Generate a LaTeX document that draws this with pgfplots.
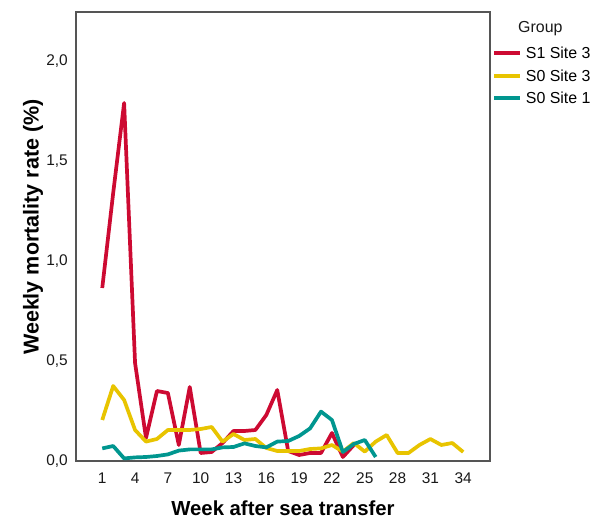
\documentclass[border=0pt]{standalone}
\usepackage{fontspec}
\setmainfont{Liberation Sans}
\usepackage{pgfplots}
\pgfplotsset{compat=1.18}
\definecolor{cred}{RGB}{205,10,50}
\definecolor{cyel}{RGB}{232,196,0}
\definecolor{cteal}{RGB}{0,150,143}
\definecolor{cframe}{RGB}{85,85,85}
\begin{document}
\begin{tikzpicture}
\begin{axis}[
  scale only axis,
  width=414bp, height=449bp,
  xmin=-1.4, xmax=36.45,
  ymin=0, ymax=2.245,
  axis line style={cframe, line width=1.3bp},
  xtick={1,4,...,34},
  ytick={0,0.5,1,1.5,2},
  major tick length=0pt,
  tick style={draw=none},
  /pgf/number format/assume math mode=true,
  yticklabel={\pgfmathprintnumber[fixed,fixed zerofill,precision=1,use comma]{\tick}},
  xticklabel={\pgfmathprintnumber[fixed,precision=0]{\tick}},
  ticklabel style={font=\fontsize{15.5}{18}\selectfont, text=black!90},
  yticklabel style={inner sep=0pt, anchor=east, xshift=-8bp},
  xticklabel style={inner sep=0pt, anchor=north, yshift=-12bp},
  xlabel={Week after sea transfer},
  ylabel={Weekly mortality rate (\%)},
  xlabel style={font=\fontsize{20.4}{24}\selectfont\bfseries, inner sep=0pt, at={(axis description cs:0.5,-0.089)}, anchor=north},
  ylabel style={font=\fontsize{21.6}{24}\selectfont\bfseries, inner sep=0pt, at={(axis description cs:-0.104,0.521)}, anchor=center, rotate=0},
  legend style={draw=none, fill=none, inner sep=0pt, at={(1,1)}, anchor=north west,
    xshift=2bp, yshift=-35bp, row sep=9.5bp, column sep=4bp,
    font=\fontsize{16}{19}\selectfont, nodes={inner sep=0pt, anchor=base west}},
  legend cell align=left,
  legend image code/.code={\draw[#1] (0bp,5.6bp) -- (26bp,5.6bp);},
  every axis plot/.append style={line width=3.7bp, line join=round},
]
\addplot[cred, no markers] coordinates {
(1,0.865) (2,1.34) (3,1.79) (4,0.49) (5,0.115) (6,0.35) (7,0.34) (8,0.08) (9,0.37) (10,0.04)
(11,0.045) (12,0.09) (13,0.15) (14,0.15) (15,0.155) (16,0.23) (17,0.355) (18,0.05) (19,0.03) (20,0.04)
(21,0.04) (22,0.14) (23,0.02) (24,0.08)
};
\addlegendentry{S1 Site 3}
\addplot[cyel, no markers] coordinates {
(1,0.205) (2,0.375) (3,0.305) (4,0.155) (5,0.097) (6,0.11) (7,0.155) (8,0.155) (9,0.155) (10,0.16)
(11,0.17) (12,0.097) (13,0.135) (14,0.105) (15,0.11) (16,0.065) (17,0.05) (18,0.05) (19,0.05) (20,0.06)
(21,0.063) (22,0.08) (23,0.047) (24,0.09) (25,0.047) (26,0.097) (27,0.13) (28,0.04) (29,0.04) (30,0.08)
(31,0.11) (32,0.08) (33,0.09) (34,0.045)
};
\addlegendentry{S0 Site 3}
\addplot[cteal, no markers] coordinates {
(1,0.063) (2,0.075) (3,0.013) (4,0.018) (5,0.02) (6,0.025) (7,0.033) (8,0.052) (9,0.058) (10,0.058)
(11,0.058) (12,0.068) (13,0.07) (14,0.088) (15,0.075) (16,0.068) (17,0.097) (18,0.10) (19,0.125) (20,0.163)
(21,0.247) (22,0.205) (23,0.045) (24,0.085) (25,0.105) (26,0.02)
};
\addlegendentry{S0 Site 1}
\end{axis}
\node[anchor=west, inner sep=0pt, font=\fontsize{16}{19}\selectfont, text=black!90] at ([xshift=28bp,yshift=-17bp]current axis.north east) {Group};
\pgfresetboundingbox
\path[use as bounding box] ([xshift=-76bp,yshift=-60bp]current axis.south west) rectangle ++(590bp,521bp);
\end{tikzpicture}
\end{document}
